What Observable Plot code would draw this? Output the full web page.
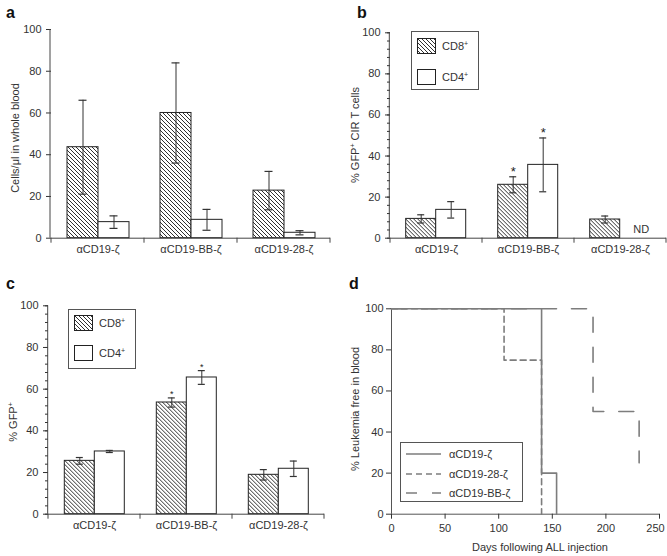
<!DOCTYPE html>
<html>
<head>
<meta charset="utf-8">
<script src="https://cdn.jsdelivr.net/npm/d3@7"></script>
<script src="https://cdn.jsdelivr.net/npm/@observablehq/plot@0.6"></script>
<style>
  body { margin: 0; background: #fff; font-family: "Liberation Sans", Arial, Helvetica, sans-serif; }
  #wrap { position: relative; width: 667px; height: 556px; overflow: hidden; background: #fff; }
  .panel { position: absolute; }
  .plab { position: absolute; font-weight: bold; font-size: 16px; line-height: 16px; color: #111; }
  .legend { position: absolute; border: 1px solid #555; background: #fff; box-sizing: border-box; }
  .legend .row { position: absolute; font-size: 11px; line-height: 12px; color: #333; white-space: nowrap; }
  .legend svg { position: absolute; overflow: visible; }
  sup { font-size: 7px; vertical-align: 4px; line-height: 0; }
</style>
</head>
<body>
<div id="wrap"></div>
<script>
const FONT = '"Liberation Sans", Arial, Helvetica, sans-serif';

// ---- shared categories / ticks ----
const groups = ["αCD19-ζ", "αCD19-BB-ζ", "αCD19-28-ζ"];
const cellTypes = ["CD8", "CD4"];
const yTicks = [0, 20, 40, 60, 80, 100];

// ---- panel a: cells/µl in whole blood ----
const aCD8 = [43.6, 60.0, 22.8];
const aCD8Err = [22.5, 24.0, 9.2];
const aCD4 = [7.7, 8.8, 2.6];
const aCD4Err = [3.0, 5.0, 1.0];

// ---- panel b: % GFP+ CIR T cells ----
const bCD8 = [9.4, 26.0, 9.1];
const bCD8Err = [2.0, 3.9, 1.7];
const bCD4 = [13.8, 35.7, null];   // null = ND
const bCD4Err = [4.0, 13.1, null];
const bSig8 = [false, true, false];
const bSig4 = [false, true, false];

// ---- panel c: % GFP+ ----
const cCD8 = [25.6, 53.6, 18.9];
const cCD8Err = [1.6, 2.2, 2.5];
const cCD4 = [30.1, 65.6, 21.8];
const cCD4Err = [0.5, 3.3, 3.7];
const cSig8 = [false, true, false];
const cSig4 = [false, true, false];

// ---- panel d: % leukemia free in blood ----
const seriesD = ["αCD19-ζ", "αCD19-28-ζ", "αCD19-BB-ζ"];
const zetaDays = [0, 140, 154];
const zetaPct = [100, 20, 0];
const z28Days = [0, 105, 140];
const z28Pct = [100, 75, 0];
const zBBDays = [0, 188, 231];
const zBBPct = [100, 50, 25];
const xTicksD = [0, 50, 100, 150, 200, 250];

const wrap = document.getElementById("wrap");

function makeRows(cd8, cd8e, cd4, cd4e, s8, s4) {
  const out = [];
  groups.forEach((g, i) => {
    out.push({group: g, cell: "CD8", value: cd8[i], err: cd8e[i], sig: s8 ? s8[i] : false});
    out.push({group: g, cell: "CD4", value: cd4[i], err: cd4e[i], sig: s4 ? s4[i] : false});
  });
  return out;
}

function addPattern(svg, id) {
  d3.select(svg).insert("defs", ":first-child").html(
    `<pattern id="${id}" patternUnits="userSpaceOnUse" width="4" height="4">
       <rect width="4" height="4" fill="#fff"/>
       <path d="M-1,-1L5,5M-1,3L1,5M3,-1L5,1" stroke="#1a1a1a" stroke-width="0.9"/>
     </pattern>`);
}

function addYLabel(svg, parts, x, y) {
  const t = d3.select(svg).append("text")
    .attr("transform", `translate(${x},${y}) rotate(-90)`)
    .attr("text-anchor", "middle").attr("dy", "0.35em")
    .attr("fill", "#333").attr("font-size", 11).attr("font-family", FONT);
  parts.forEach(([s, sup]) => {
    const ts = t.append("tspan").text(s);
    if (sup) ts.attr("font-size", 7).attr("dy", -4);
    else if (t.node().childNodes.length > 1) ts.attr("dy", 4);
  });
}

function place(el, left, top) {
  el.classList.add("panel");
  el.style.left = left + "px";
  el.style.top = top + "px";
  wrap.appendChild(el);
}

function barPanel(o) {
  const rows = o.rows;
  const has = rows.filter(d => d.value != null);
  const nd = rows.filter(d => d.value == null);
  const marks = [
    Plot.barY(has.filter(d => d.cell === "CD8"), {fx: "group", x: "cell", y: "value", fill: `url(#${o.id})`, stroke: "#222", strokeWidth: 1}),
    Plot.barY(has.filter(d => d.cell === "CD4"), {fx: "group", x: "cell", y: "value", fill: "#fff", stroke: "#222", strokeWidth: 1}),
    Plot.ruleX(has, {fx: "group", x: "cell", y1: d => d.value - d.err, y2: d => d.value + d.err, stroke: "#333", strokeWidth: 1}),
    Plot.tickY(has, {fx: "group", x: "cell", y: d => d.value + d.err, stroke: "#333", strokeWidth: 1.2, insetLeft: 11.5, insetRight: 11.5}),
    Plot.tickY(has, {fx: "group", x: "cell", y: d => d.value - d.err, stroke: "#333", strokeWidth: 1.2, insetLeft: 11.5, insetRight: 11.5}),
    Plot.text(has.filter(d => d.sig), {fx: "group", x: "cell", y: d => d.value + d.err, text: () => "*", dy: o.starDy, fontSize: o.starSize, fill: "#222"}),
    Plot.text(nd, {fx: "group", x: "cell", y: () => 0, text: () => "ND", dy: -9, dx: 6, fontSize: 11, fill: "#333"}),
    Plot.ruleY([0], {stroke: "#444", strokeWidth: 1}),
    Plot.axisY({ticks: yTicks, tickSize: 5, tickPadding: 5, fontSize: 11, label: null}),
    Plot.axisFx({anchor: "bottom", tickSize: 0, tickPadding: 7, fontSize: 11, label: null})
  ];
  if (o.minor) marks.push(Plot.axisY({ticks: d3.range(0, 101, 4), tickSize: 3, tickFormat: () => "", label: null}));
  const svg = Plot.plot({
    width: o.width, height: o.height,
    marginLeft: o.ml, marginRight: o.mr, marginTop: o.mt, marginBottom: o.mb,
    style: {fontFamily: FONT, fontSize: "11px", color: "#333", background: "transparent", overflow: "visible"},
    fx: {domain: groups, padding: 0, label: null},
    x: {domain: cellTypes, paddingInner: 0, paddingOuter: 0.5, axis: null},
    y: {domain: [0, 100], axis: null},
    marks
  });
  addPattern(svg, o.id);
  // axis line and group boundary ticks derived from the scales
  const fx = svg.scale("fx"), y = svg.scale("y");
  const g = d3.select(svg).append("g").attr("stroke", "#444").attr("stroke-width", 1);
  const x0 = fx.range[0];
  g.append("line").attr("x1", x0).attr("x2", x0).attr("y1", y.range[0]).attr("y2", y.range[1]);
  const bounds = groups.map(k => fx.apply(k)).concat([fx.apply(groups[groups.length - 1]) + fx.bandwidth]);
  bounds.forEach(b => g.append("line").attr("x1", b).attr("x2", b).attr("y1", y.range[0]).attr("y2", y.range[0] + 5));
  addYLabel(svg, o.ylabel, o.ylx, o.yly);
  place(svg, o.left, o.top);
  return svg;
}

barPanel({
  id: "hatchA", rows: makeRows(aCD8, aCD8Err, aCD4, aCD4Err),
  left: 0, top: 0, width: 335, height: 275, ml: 50, mr: 5, mt: 29, mb: 37.3,
  minor: false, ylabel: [["Cells/μl in whole blood", false]], ylx: 15, yly: 138, starDy: -6, starSize: 13
});
barPanel({
  id: "hatchB", rows: makeRows(bCD8, bCD8Err, bCD4, bCD4Err, bSig8, bSig4),
  left: 330, top: 0, width: 337, height: 275, ml: 59.3, mr: 0, mt: 32.3, mb: 37.3,
  minor: true, ylabel: [["% GFP", false], ["+", true], [" CIR T cells", false]], ylx: 25, yly: 135, starDy: -5, starSize: 13
});
barPanel({
  id: "hatchC", rows: makeRows(cCD8, cCD8Err, cCD4, cCD4Err, cSig8, cSig4),
  left: 0, top: 276, width: 330, height: 275, ml: 47.7, mr: 5, mt: 29.3, mb: 37.3,
  minor: true, ylabel: [["% GFP", false], ["+", true]], ylx: 13.5, yly: 146, starDy: -4, starSize: 9
});

// ---- panel d ----
function seriesRows(name, days, pct) {
  return days.map((dd, i) => ({series: name, day: dd, pct: pct[i]}));
}
const dashes = {"αCD19-ζ": null, "αCD19-28-ζ": "6,4", "αCD19-BB-ζ": "15,15"};
const rowsD = [
  seriesRows(seriesD[0], zetaDays, zetaPct),
  seriesRows(seriesD[1], z28Days, z28Pct),
  seriesRows(seriesD[2], zBBDays, zBBPct)
];
const svgD = Plot.plot({
  width: 337, height: 280, marginLeft: 61, marginRight: 8, marginTop: 32.3, marginBottom: 42.3,
  style: {fontFamily: FONT, fontSize: "11px", color: "#333", background: "transparent", overflow: "visible"},
  x: {domain: [0, 250]},
  y: {domain: [0, 100]},
  marks: [
    Plot.ruleX([0], {stroke: "#555"}),
    Plot.ruleY([0], {stroke: "#555"}),
    ...rowsD.map(r => Plot.line(r, {x: "day", y: "pct", curve: "step-after", stroke: "#7d7d7d", strokeWidth: 1.6, strokeDasharray: dashes[r[0].series]})),
    Plot.axisY({ticks: yTicks, tickSize: 5, tickPadding: 3, fontSize: 11, label: null}),
    Plot.axisX({ticks: xTicksD, tickSize: 5, tickFormat: () => "", label: null}),
    Plot.axisX({ticks: xTicksD.slice(0, -1), tickSize: 0, tickPadding: 10, fontSize: 11, label: null}),
    Plot.axisX({ticks: xTicksD.slice(-1), tickSize: 0, tickPadding: 10, fontSize: 11, dx: -4, label: null})
  ]
});
addYLabel(svgD, [["% Leukemia free in blood", false]], 25, 133);
d3.select(svgD).append("text").attr("x", 210).attr("y", 271.6).attr("dy", "0.35em")
  .attr("text-anchor", "middle").attr("fill", "#333").attr("font-size", 11).attr("font-family", FONT)
  .text("Days following ALL injection");
place(svgD, 330, 276);

// ---- panel letters ----
[["a", 6, 5], ["b", 357, 5], ["c", 6, 276], ["d", 349, 276]].forEach(([t, x, y]) => {
  const el = document.createElement("div");
  el.className = "plab"; el.textContent = t;
  el.style.left = x + "px"; el.style.top = y + "px";
  wrap.appendChild(el);
});

// ---- legends for b and c ----
function barLegend(left, top, w, h, pat, rowsY) {
  const L = document.createElement("div");
  L.className = "legend";
  Object.assign(L.style, {left: left + "px", top: top + "px", width: w + "px", height: h + "px"});
  const labels = [["CD8", pat], ["CD4", null]];
  labels.forEach(([lab, p], i) => {
    const s = document.createElementNS("http://www.w3.org/2000/svg", "svg");
    s.setAttribute("width", 19); s.setAttribute("height", 16);
    s.style.left = "5px"; s.style.top = (rowsY[i] - 8) + "px";
    s.innerHTML = `<rect x="0.5" y="0.5" width="18" height="15" fill="${p ? `url(#${p})` : "#fff"}" stroke="#222"/>`;
    L.appendChild(s);
    const r = document.createElement("div");
    r.className = "row";
    r.innerHTML = `${lab}<sup>+</sup>`;
    r.style.left = "30px"; r.style.top = (rowsY[i] - 6) + "px";
    L.appendChild(r);
  });
  wrap.appendChild(L);
}
barLegend(411, 31, 68, 59, "hatchB", [14, 45]);
barLegend(68, 309, 68, 60, "hatchC", [13, 43]);

// ---- legend for d ----
(function () {
  const L = document.createElement("div");
  L.className = "legend";
  Object.assign(L.style, {left: "400px", top: "442px", width: "123px", height: "60px"});
  const ys = [11, 30.5, 50];
  seriesD.forEach((name, i) => {
    const s = document.createElementNS("http://www.w3.org/2000/svg", "svg");
    s.setAttribute("width", 36); s.setAttribute("height", 4);
    s.style.left = "5px"; s.style.top = (ys[i] - 2) + "px";
    const da = dashes[name];
    s.innerHTML = `<line x1="0" y1="2" x2="35" y2="2" stroke="#7d7d7d" stroke-width="1.6" ${da ? `stroke-dasharray="${da}"` : ""} ${i === 2 ? 'stroke-dashoffset="4"' : ""}/>`;
    L.appendChild(s);
    const r = document.createElement("div");
    r.className = "row"; r.textContent = name;
    r.style.left = "48px"; r.style.top = (ys[i] - 6) + "px";
    L.appendChild(r);
  });
  wrap.appendChild(L);
})();
</script>
</body>
</html>
